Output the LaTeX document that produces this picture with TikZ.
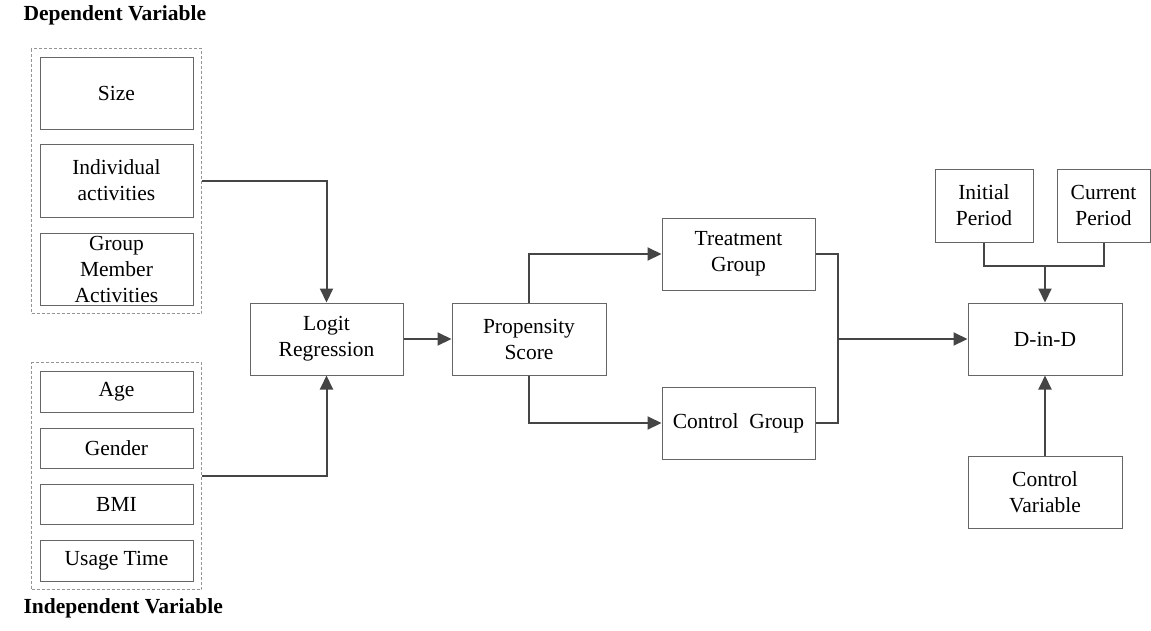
\documentclass[tikz,border=0pt]{standalone}
\usepackage{fontspec}
\setmainfont{Liberation Serif}
\usetikzlibrary{arrows.meta}
\usetikzlibrary{fit}
\definecolor{boxgray}{rgb}{0.4,0.4,0.4}
\definecolor{linegray}{rgb}{0.27,0.27,0.27}

\begin{document}
\begin{tikzpicture}[x=1pt,y=-1pt,
  box/.style={draw=boxgray,line width=1pt,inner sep=0pt,align=center,
    font=\fontsize{21.5}{26}\selectfont},
  groupbox/.style={draw=boxgray!70,line width=1pt,dash pattern=on 3pt off 2pt,inner sep=8pt},
  link/.style={draw=linegray,line width=2pt},
  arr/.style={link,-{Triangle[length=14pt,width=13pt]}},
  caption/.style={anchor=west,font=\fontsize{21.5}{26}\selectfont\bfseries}]
\useasboundingbox (0,0) rectangle (1151,630);

% dependent variables
\node[box,minimum width=153pt,minimum height=72pt] (size) at (116.5,93) {Size};
\node[box,minimum width=153pt,minimum height=73pt] (indiv) at (116.5,180.5) {Individual\\activities};
\node[box,minimum width=153pt,minimum height=72pt] (group) at (116.5,269) {Group\\Member\\Activities};
\node[groupbox,fit=(size)(indiv)(group)] (dep) {};
\node[caption] (deplabel) at (20,15) {Dependent Variable};

% independent variables
\node[box,minimum width=153pt,minimum height=41pt] (age) at (116.5,391.5) {Age};
\node[box,minimum width=153pt,minimum height=40pt] (gender) at (116.5,448) {Gender};
\node[box,minimum width=153pt,minimum height=40pt] (bmi) at (116.5,504) {BMI};
\node[box,minimum width=153pt,minimum height=41pt] (usage) at (116.5,560.5) {Usage Time};
\node[groupbox,fit=(age)(gender)(bmi)(usage)] (indep) {};
\node[caption] (indeplabel) at (20,608) {Independent Variable};

% main chain
\node[box,minimum width=153pt,minimum height=72pt] (logit) at (326.5,339) {Logit\\Regression};
\node[box,minimum width=154pt,minimum height=72pt] (prop) at (529,339) {Propensity\\Score};
\node[box,minimum width=153pt,minimum height=72pt] (treat) at (738.5,254) {Treatment\\Group};
\node[box,minimum width=153pt,minimum height=72pt] (control) at (738.5,423) {Control\ \ Group};
\node[box,minimum width=154pt,minimum height=72pt] (dind) at (1045,339) {D-in-D};
\node[box,minimum width=98pt,minimum height=73pt] (initial) at (984,205.5) {Initial\\Period};
\node[box,minimum width=93pt,minimum height=73pt] (current) at (1103.5,205.5) {Current\\Period};
\node[box,minimum width=154pt,minimum height=72pt] (ctrlvar) at (1045,492) {Control\\Variable};

\coordinate (join) at (838,339);
\coordinate (period) at (1045,266);

% connectors
\draw[arr] (dep.east) -| (logit.north);
\draw[arr] (indep.east) -| (logit.south);
\draw[arr] (logit.east) -- (prop.west);
\draw[arr] (prop.north) |- (treat.west);
\draw[arr] (prop.south) |- (control.west);
\draw[link] (treat.east) -| (join);
\draw[link] (control.east) -| (join);
\draw[arr] (join) -- (dind.west);
\draw[link] (initial.south) |- (period);
\draw[link] (current.south) |- (period);
\draw[arr] (period) -- (dind.north);
\draw[arr] (ctrlvar.north) -- (dind.south);
\end{tikzpicture}
\end{document}
